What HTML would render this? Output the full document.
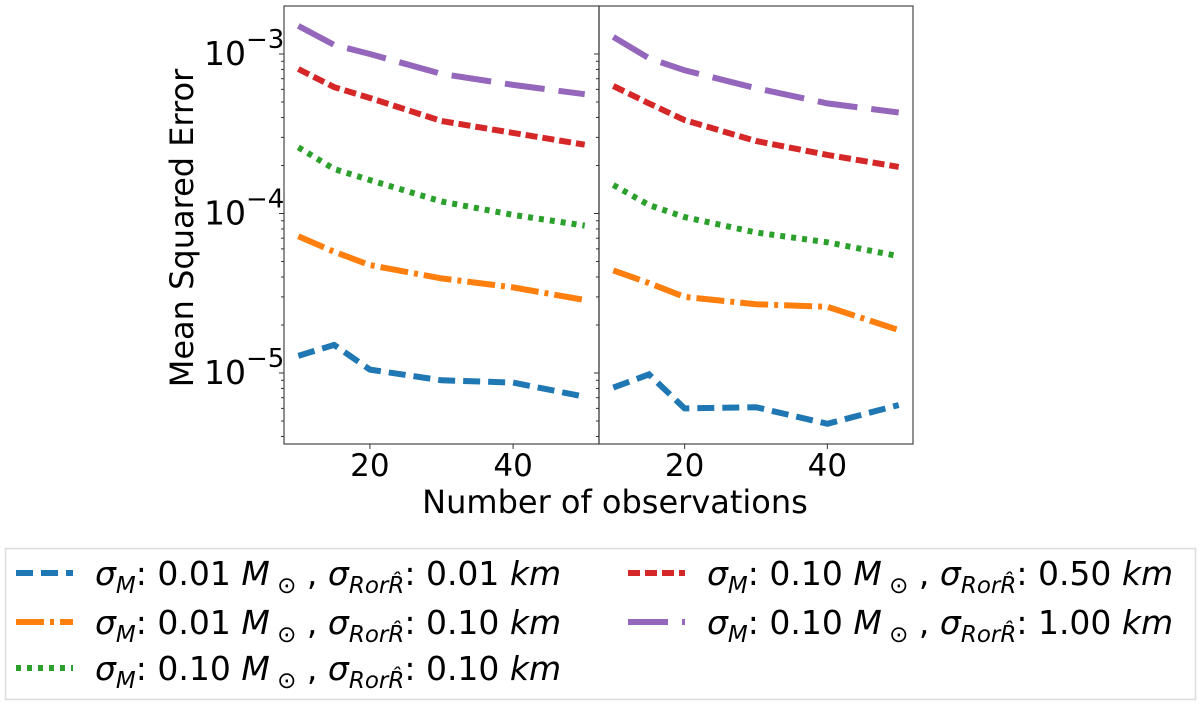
<!DOCTYPE html>
<html><head><meta charset="utf-8"><style>
body{margin:0;background:#fff;}
svg text{font-family:"DejaVu Sans","Liberation Sans",sans-serif;fill:#000;}
</style></head><body>
<svg id="chart" width="1200" height="706" xmlns="http://www.w3.org/2000/svg">
<g id="plots"></g>
<text x="193" y="228" font-size="32" text-anchor="middle" transform="rotate(-90 193 228)">Mean Squared Error</text>
<text x="615" y="513" font-size="32" text-anchor="middle">Number of observations</text>
<rect x="5.5" y="548.5" width="1190" height="151" fill="#fff" stroke="#ddd" stroke-width="1.5"/>
<g id="legend"></g>
</svg>
<script>
const xs = [10, 15, 20, 30, 40, 50];
const seriesNames = ["blue", "orange", "green", "red", "purple"];
const leftBlue = [1.28e-5, 1.5e-5, 1.05e-5, 9.0e-6, 8.7e-6, 7.1e-6];
const leftOrange = [7.2e-5, 5.76e-5, 4.75e-5, 3.92e-5, 3.44e-5, 2.87e-5];
const leftGreen = [2.6e-4, 1.9e-4, 1.62e-4, 1.19e-4, 9.8e-5, 8.4e-5];
const leftRed = [8.05e-4, 6.2e-4, 5.3e-4, 3.8e-4, 3.2e-4, 2.7e-4];
const leftPurple = [1.5e-3, 1.14e-3, 1.0e-3, 7.5e-4, 6.4e-4, 5.6e-4];
const rightBlue = [8.1e-6, 9.8e-6, 6.0e-6, 6.1e-6, 4.8e-6, 6.3e-6];
const rightOrange = [4.4e-5, 3.66e-5, 3.0e-5, 2.7e-5, 2.6e-5, 1.86e-5];
const rightGreen = [1.51e-4, 1.13e-4, 9.5e-5, 7.6e-5, 6.6e-5, 5.4e-5];
const rightRed = [6.3e-4, 4.9e-4, 3.85e-4, 2.85e-4, 2.33e-4, 1.96e-4];
const rightPurple = [1.28e-3, 9.4e-4, 7.9e-4, 6.1e-4, 4.9e-4, 4.3e-4];
const xTicks = [20, 40];
const yTickExps = [-3, -4, -5];
const legendLabels = ["0.01 M|0.01", "0.01 M|0.10", "0.10 M|0.10", "0.10 M|0.50", "0.10 M|1.00"];

const NS = "http://www.w3.org/2000/svg";
const colors = {blue:"#1f77b4", orange:"#ff7f0e", green:"#2ca02c", red:"#d62728", purple:"#9467bd"};
const dashes = {blue:"17 8", orange:"28 6 4 6", green:"5 6", red:"12 5", purple:"40 14"};
const plotTop = 6, plotBottom = 444;
const yLog0 = -3, yPix0 = 54, decade = 159.5;
function yScale(v){ return yPix0 - (Math.log10(v) - yLog0) * decade; }
const xmin = 8, xmax = 52;
function mk(tag, attrs, parent){ const e = document.createElementNS(NS, tag); for (const k in attrs) e.setAttribute(k, attrs[k]); parent.appendChild(e); return e; }
const plots = document.getElementById("plots");
const panels = [
  {left:284, right:599, data:{blue:leftBlue, orange:leftOrange, green:leftGreen, red:leftRed, purple:leftPurple}, name:"left"},
  {left:599, right:913, data:{blue:rightBlue, orange:rightOrange, green:rightGreen, red:rightRed, purple:rightPurple}, name:"right"}
];
panels.forEach(p => {
  const xScale = v => p.left + (v - xmin) / (xmax - xmin) * (p.right - p.left);
  const g = mk("g", {}, plots);
  
  
  seriesNames.forEach(s => {
    const pts = xs.map((x, i) => xScale(x).toFixed(1) + "," + yScale(p.data[s][i]).toFixed(1)).join(" ");
    const pl = mk("polyline", {points:pts, fill:"none", stroke:colors[s], "stroke-width":6, "stroke-dasharray":dashes[s]}, g);
    
    
  });
  const fr = mk("rect", {x:p.left, y:plotTop, width:p.right - p.left, height:plotBottom - plotTop, fill:"none", stroke:"#555", "stroke-width":1.3}, g);
  
  
  xTicks.forEach(t => {
    const x = xScale(t);
    mk("line", {x1:x, x2:x, y1:plotBottom, y2:plotBottom + 5, stroke:"#333", "stroke-width":1}, g);
    const tx = mk("text", {x:x, y:plotBottom + 32, "font-size":31, "text-anchor":"middle"}, g);
    tx.textContent = t;
    
    
  });
  for (let e = -6; e <= -2; e++) for (let m = 1; m <= 9; m++) {
    const y = yScale(m * Math.pow(10, e));
    if (y < plotTop || y > plotBottom) continue;
    mk("line", {x1:p.left, x2:p.left - (m === 1 ? 5 : 3), y1:y, y2:y, stroke:"#333", "stroke-width":1}, g);
  }
});
yTickExps.forEach(e => {
  const y = yScale(Math.pow(10, e));
  const t = mk("text", {x:204, y:y + 11, "font-size":33}, plots);
  
  
  t.textContent = "10";
  const sp = mk("tspan", {dy:-17, "font-size":26}, t);
  sp.textContent = "\u2212" + Math.abs(e);
});
const leg = document.getElementById("legend");
const legPos = [[16, 573], [16, 622], [16, 668], [628, 573], [628, 622]];
seriesNames.forEach((s, i) => {
  const [lx, ly] = legPos[i];
  const g = mk("g", {}, leg);
  
  
  mk("line", {x1:lx, x2:lx + 57, y1:ly, y2:ly, stroke:colors[s], "stroke-width":6, "stroke-dasharray":dashes[s]}, g);
  const [mv, rv] = legendLabels[i].split("|");
  const t = mk("text", {x:lx + 79, y:ly + 12, "font-size":33}, g);
  const parts = [["\u03C3", "italic", 0, 33], ["M", "italic", 8, 23], [": " + mv.replace(" M", "") + " ", "normal", -8, 33], ["M", "italic", 0, 33], [" \u2299", "normal", 8, 23], [" , ", "normal", -8, 33], ["\u03C3", "italic", 0, 33], ["RorR\u0302", "italic", 8, 23], [": " + rv + " ", "normal", -8, 33], ["km", "italic", 0, 33]];
  parts.forEach(([txt, st, dy, fs]) => { const sp = mk("tspan", {dy:dy, "font-style":st, "font-size":fs}, t); sp.textContent = txt; });
});
</script>
</body></html>
